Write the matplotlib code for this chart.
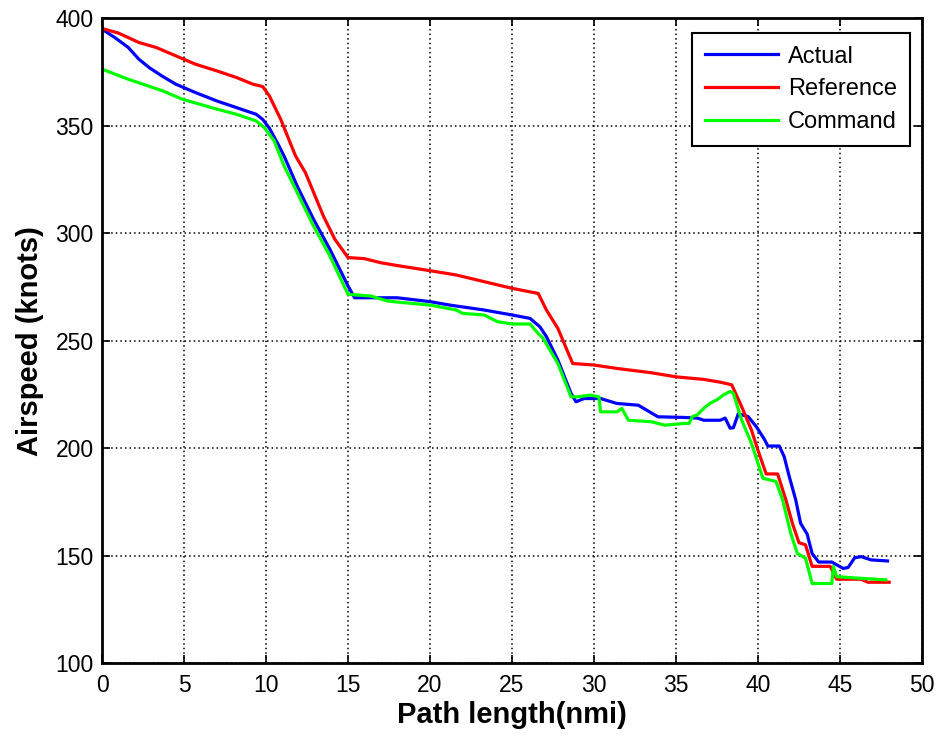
"""
Airspeed vs path length: actual, reference and command profiles.
"""

import matplotlib
matplotlib.use("Agg")
import matplotlib.pyplot as plt

# ── Actual airspeed ─────────────────────────────────────────────────────
ACTUAL_X = [0, 0.8, 1.6, 2.25, 2.9, 3.7, 4.5, 5.7, 7.0, 8.2, 9.4, 9.8, 10.2,
            10.7, 11.1, 11.9, 12.9, 13.9, 15.0, 15.4, 18.0, 20.0, 21.2, 23.3,
            25.0, 26.1, 26.7, 27.1, 27.8, 28.6, 28.9, 29.4, 30.4, 31.4, 32.7,
            33.9, 35.5, 36.3, 36.7, 37.7, 38.0, 38.3, 38.5, 38.8, 39.4, 39.9,
            40.4, 40.6, 41.3, 41.6, 41.9, 42.3, 42.6, 43.0, 43.3, 43.7, 44.5,
            45.2, 45.5, 45.9, 46.3, 46.9, 47.9]
ACTUAL_Y = [395, 391, 386.5, 381, 377, 373, 369.4, 365.5, 361.6, 358.5, 355.4,
            353, 349, 342, 336, 322, 306.5, 292.5, 275.5, 270, 270, 268.2,
            266.6, 264.3, 262, 260.4, 256.5, 251.9, 241, 225.5, 221.6, 223.1,
            223.1, 220.8, 220, 214.6, 214.3, 214, 213, 213, 214, 209.3, 209.5,
            216, 214.7, 210, 204, 201, 201, 196, 187, 176, 165, 160, 151, 147,
            147, 144, 144.5, 149, 149.5, 148, 147.5]

# ── Reference airspeed ──────────────────────────────────────────────────
REF_X = [0, 1.0, 2.25, 3.3, 4.5, 5.7, 7.0, 8.2, 9.2, 9.8, 10.2, 10.9, 11.8,
         12.4, 13.5, 14.2, 15.0, 16.0, 17.0, 18.0, 20.0, 21.6, 23.3, 25.0,
         26.6, 27.1, 27.8, 28.7, 30.0, 31.4, 33.5, 35.0, 36.7, 37.7, 38.4,
         39.0, 39.6, 40.0, 40.5, 41.2, 41.7, 42.1, 42.5, 42.9, 43.3, 44.4,
         44.8, 46.3, 46.7, 48.0]
REF_Y = [395.3, 393.2, 388.8, 386.5, 382.6, 378.7, 375.6, 372.5, 369.4, 368.3,
         364, 353, 336, 328.3, 308, 297.2, 288.7, 288.2, 286.3, 285, 282.6,
         280.6, 277.5, 274.4, 272, 264.3, 255.7, 239.4, 238.7, 237.1, 235.1,
         233.2, 232, 230.7, 229.5, 219.4, 208.5, 199, 188, 188, 176, 165, 156,
         155, 145, 145, 139, 139, 137.6, 137.6]

# ── Command airspeed ────────────────────────────────────────────────────
CMD_X = [0, 1.6, 3.7, 4.9, 7.0, 8.2, 9.4, 9.9, 10.5, 11.1, 11.9, 12.9, 13.9,
         15.0, 16.4, 17.4, 18.0, 20.0, 21.6, 22.0, 23.3, 24.1, 25.0, 26.1,
         26.5, 26.9, 27.8, 28.6, 29.0, 29.8, 30.3, 30.4, 31.4, 31.7, 32.1,
         33.5, 34.3, 35.5, 35.8, 36.0, 36.3, 36.7, 37.1, 37.5, 37.9, 38.3,
         38.5, 39.0, 39.6, 40.0, 40.3, 41.1, 41.5, 42.0, 42.4, 42.9, 43.3,
         44.5, 44.6, 44.8, 46.3, 47.8]
CMD_Y = [376.4, 371.7, 366.3, 362.4, 357.8, 355.4, 352.3, 349.2, 343, 331.4,
         319, 303.4, 289.4, 271.6, 270.8, 268.5, 268, 266.6, 264.3, 262.7, 262,
         258.9, 257.8, 257.8, 254.2, 251.1, 239.4, 223.9, 223.9, 224.7, 223.9,
         216.9, 216.9, 218.5, 213, 212.3, 210.7, 211.5, 211.5, 214.7, 215.5,
         218.6, 221, 222.5, 224.8, 226.4, 225.5, 213.2, 202.3, 193, 186, 184.5,
         176, 160.4, 151, 148.8, 137, 137, 144.9, 140.2, 139.4, 138.7]

X_TICKS = list(range(0, 55, 5))
Y_TICKS = list(range(100, 450, 50))

FONT = ["Liberation Sans", "DejaVu Sans"]


def main():
    plt.rcParams["font.family"] = FONT
    fig = plt.figure(figsize=(9.36, 7.38), dpi=100)
    ax = fig.add_axes([0.109, 0.1016, 0.876, 0.8734])

    ax.plot(ACTUAL_X, ACTUAL_Y, color="#0000ff", linewidth=2.3, label="Actual")
    ax.plot(REF_X, REF_Y, color="#ff0000", linewidth=2.3, label="Reference")
    ax.plot(CMD_X, CMD_Y, color="#00ff00", linewidth=2.3, label="Command")

    ax.set_xlim(0, 50)
    ax.set_ylim(100, 400)
    ax.set_xticks(X_TICKS)
    ax.set_yticks(Y_TICKS)
    ax.tick_params(direction="in", top=True, right=True, length=6, width=1.2,
                   labelsize=16.5)
    ax.tick_params(axis="x", pad=8)
    ax.tick_params(axis="y", pad=6)

    ax.grid(True, color="black", linestyle=(0, (1, 2)), linewidth=1.1)
    for sp in ax.spines.values():
        sp.set_linewidth(2)

    ax.set_xlabel("Path length(nmi)", fontsize=21, fontweight="bold",
                  labelpad=3)
    ax.set_ylabel("Airspeed (knots)", fontsize=21, fontweight="bold",
                  labelpad=8)

    leg = ax.legend(loc="upper right", fontsize=17, fancybox=False,
                    framealpha=1, edgecolor="black", borderpad=0.55,
                    borderaxespad=0, handlelength=3.1, handletextpad=0.4,
                    labelspacing=0.45, bbox_to_anchor=(0.985, 0.978))
    leg.get_frame().set_linewidth(1.5)

    fig.savefig("out.png", dpi=100)


if __name__ == "__main__":
    main()
